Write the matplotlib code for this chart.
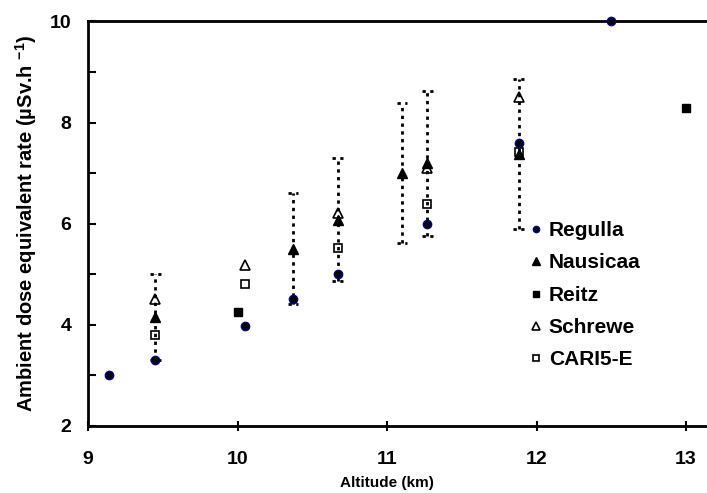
import numpy as np
import matplotlib
matplotlib.use('Agg')
import matplotlib.pyplot as plt

plt.rcParams['font.family'] = ['Liberation Sans', 'DejaVu Sans']
plt.rcParams['font.weight'] = 'bold'
plt.rcParams['mathtext.fontset'] = 'custom'
plt.rcParams['mathtext.rm'] = 'Liberation Sans:bold'
plt.rcParams['mathtext.it'] = 'Liberation Sans:bold'
plt.rcParams['mathtext.bf'] = 'Liberation Sans:bold'

# data (altitude km, dose rate uSv/h)
regulla_x = [9.14, 9.45, 10.05, 10.37, 10.67, 11.27, 11.88, 12.5]
regulla_y = [3.0, 3.3, 3.98, 4.5, 5.01, 6.0, 7.6, 10.0]

nausicaa_x = [9.45, 10.37, 10.67, 11.1, 11.27, 11.88]
nausicaa_y = [4.15, 5.5, 6.08, 7.0, 7.19, 7.38]
nausicaa_err = [0.85, 1.1, 1.22, 1.39, 1.44, 1.48]

reitz_x = [10.0, 13.0]
reitz_y = [4.26, 8.29]

schrewe_x = [9.45, 10.05, 10.67, 11.27, 11.88]
schrewe_y = [4.5, 5.19, 6.2, 7.1, 8.51]

cari_x = [9.45, 10.05, 10.67, 11.27, 11.88]
cari_y = [3.79, 4.8, 5.51, 6.39, 7.41]

fig = plt.figure(figsize=(7.07, 4.93), dpi=100)
ax = fig.add_axes([0.1245, 0.1365, 0.8755, 0.8199])

# dotted error bars on Nausicaa
nx = np.array(nausicaa_x)
ny = np.array(nausicaa_y)
ne = np.array(nausicaa_err)
ax.vlines(nx, ny - ne, ny + ne, colors='black', linestyles=(0, (1.2, 1.6)), linewidth=2.0, zorder=1)
cap = 0.035
ax.hlines(np.r_[ny - ne, ny + ne], np.r_[nx, nx] - cap, np.r_[nx, nx] + cap,
          colors='black', linestyles=(0, (1.2, 1.6)), linewidth=2.0, zorder=1)

ax.plot(regulla_x, regulla_y, 'o', color='black', mec='#000080', mew=1.0, ms=6,
        label='Regulla', clip_on=False, zorder=5)
ax.plot(nausicaa_x, nausicaa_y, '^', color='black', ms=7, label='Nausicaa', zorder=3)
ax.plot(reitz_x, reitz_y, 's', color='black', ms=6, label='Reitz', zorder=3)
ax.plot(schrewe_x, schrewe_y, '^', mfc='none', mec='black', mew=1.2, ms=7,
        label='Schrewe', zorder=4)
ax.plot(cari_x, cari_y, 's', mfc='none', mec='black', mew=1.2, ms=6,
        label='CARI5-E', zorder=4)

ax.set_xlim(9, 13.14)
ax.set_ylim(2, 10)
ax.set_xticks([9, 10, 11, 12, 13])
ax.set_yticks([2, 4, 6, 8, 10])
ax.set_yticks([3, 5, 7, 9], minor=True)

for s in ['left', 'bottom', 'top']:
    ax.spines[s].set_linewidth(2.0)
ax.spines['right'].set_visible(False)

ax.tick_params(axis='x', direction='inout', length=7, width=1.5, pad=15, labelsize=14)
ax.tick_params(axis='y', which='both', direction='in', length=6, width=1.5, pad=12, labelsize=14)
ax.tick_params(top=False, right=False)

ax.set_xlabel('Altitude (km)', fontsize=11, fontweight='bold')
ax.xaxis.set_label_coords((11 - 9) / 4.14, -0.125)
ax.set_ylabel('Ambient dose equivalent rate (µSv.h $^{-1}$)', fontsize=14.5, fontweight='bold')
ax.yaxis.set_label_coords(-0.08, 0.5)

h, l = ax.get_legend_handles_labels()
leg = ax.legend(h, l, loc='upper left', bbox_to_anchor=(0.729, 0.581), bbox_transform=fig.transFigure,
                frameon=False, markerscale=0.75, handlelength=0.6, handletextpad=0.3,
                labelspacing=0.64, prop={'size': 15, 'weight': 'bold'}, numpoints=1,
                borderpad=0.2)

fig.savefig('out.png', dpi=100)
